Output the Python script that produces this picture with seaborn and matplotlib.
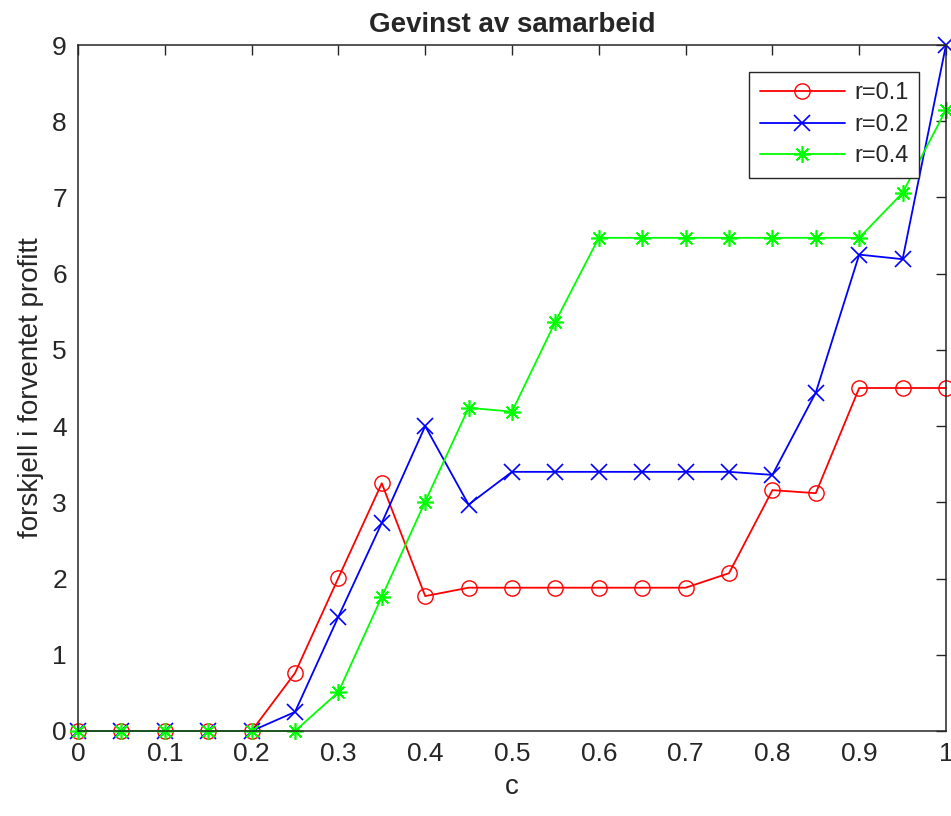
import numpy as np
import pandas as pd
import seaborn as sns
import matplotlib.pyplot as plt

# cost parameter c
c = [0.00, 0.05, 0.10, 0.15, 0.20, 0.25, 0.30, 0.35, 0.40, 0.45, 0.50,
     0.55, 0.60, 0.65, 0.70, 0.75, 0.80, 0.85, 0.90, 0.95, 1.00]

# difference in expected profit for each r
diff_r01 = [0, 0, 0, 0, 0, 0.76, 2.01, 3.25, 1.77, 1.88, 1.88,
            1.88, 1.88, 1.88, 1.88, 2.07, 3.16, 3.12, 4.50, 4.50, 4.50]
diff_r02 = [0, 0, 0, 0, 0, 0.25, 1.50, 2.73, 4.00, 2.97, 3.40,
            3.40, 3.40, 3.40, 3.40, 3.40, 3.36, 4.44, 6.25, 6.19, 9.00]
diff_r04 = [0, 0, 0, 0, 0, 0.00, 0.51, 1.76, 3.01, 4.24, 4.19,
            5.37, 6.47, 6.47, 6.47, 6.47, 6.47, 6.47, 6.47, 7.06, 8.15]

labels = ["r=0.1", "r=0.2", "r=0.4"]
xticks = [0, 0.1, 0.2, 0.3, 0.4, 0.5, 0.6, 0.7, 0.8, 0.9, 1]
xticklabels = ["0", "0.1", "0.2", "0.3", "0.4", "0.5", "0.6", "0.7", "0.8", "0.9", "1"]
yticks = list(range(0, 10))

sns.set_theme(style="white")
plt.rcParams["font.family"] = ["Liberation Sans", "DejaVu Sans"]

fig = plt.figure(figsize=(9.51, 8.16), dpi=100)
ax = fig.add_axes([78 / 951, 85 / 816, 868 / 951, 686 / 816])

series = [
    (diff_r01, labels[0], "#FF0000", dict(marker="o", markerfacecolor="none",
                                          markeredgecolor="#FF0000", markersize=11,
                                          markeredgewidth=1.0)),
    (diff_r02, labels[1], "#0000FF", dict(marker="x", markersize=11,
                                          markeredgecolor="#0000FF",
                                          markeredgewidth=1.2)),
    (diff_r04, labels[2], "#00FF00", dict(marker=(8, 2, 0), markersize=12,
                                          markeredgecolor="#00FF00",
                                          markeredgewidth=1.2)),
]

for vals, lab, col, mk in series:
    df = pd.DataFrame({"c": c, "diff": vals})
    sns.lineplot(data=df, x="c", y="diff", ax=ax, color=col, label=lab,
                 linewidth=1.3, clip_on=False, **mk)

ax.set_xlim(0, 1)
ax.set_ylim(0, 9)
ax.set_xticks(xticks)
ax.set_xticklabels(xticklabels)
ax.set_yticks(yticks)

ax.tick_params(direction="in", length=7, width=1, top=True, right=True,
               labelsize=19, colors="#262626", pad=8)
for sp in ax.spines.values():
    sp.set_color("#262626")
    sp.set_linewidth(1.1)

ax.set_xlabel("c", fontsize=20, color="#262626", labelpad=6)
ax.set_ylabel("forskjell i forventet profitt", fontsize=20, color="#262626", labelpad=6)
ax.set_title("Gevinst av samarbeid", fontsize=20, fontweight="bold", pad=9)

leg = ax.legend(loc="upper right", bbox_to_anchor=(0.969, 0.961), borderaxespad=0,
                fontsize=17, frameon=True, fancybox=False, framealpha=1,
                edgecolor="#262626", handlelength=3.6, handletextpad=0.4,
                labelspacing=0.4, borderpad=0.45)
leg.get_frame().set_linewidth(1.0)

fig.savefig("out.png", dpi=100)
